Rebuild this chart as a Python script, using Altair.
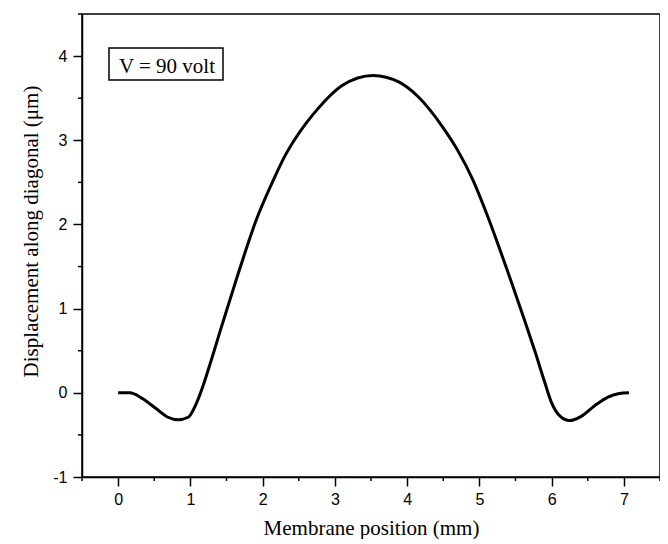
import altair as alt
import pandas as pd

# Curve (membrane position in mm, displacement in µm)
positions = [0, 0.16, 0.34, 0.53, 0.69, 0.83, 0.97, 1.08, 1.17, 1.29, 1.40, 1.52,
             1.63, 1.75, 1.91, 2.00, 2.15, 2.30, 2.46, 2.60, 2.76, 3.10, 3.53,
             3.89, 4.15, 4.49, 4.70, 4.91, 5.10, 5.26, 5.45, 5.63, 5.77, 5.91,
             6.00, 6.12, 6.25, 6.41, 6.60, 6.78, 6.92, 7.07]
displacements = [0, 0, -0.07, -0.19, -0.29, -0.32, -0.29, -0.13, 0.07, 0.39,
                 0.70, 1.03, 1.33, 1.65, 2.05, 2.24, 2.53, 2.80, 3.03, 3.20,
                 3.37, 3.65, 3.77, 3.69, 3.52, 3.16, 2.88, 2.53, 2.13, 1.76,
                 1.30, 0.85, 0.49, 0.11, -0.12, -0.28, -0.33, -0.28, -0.15,
                 -0.05, -0.01, 0]

x_major = [0, 1, 2, 3, 4, 5, 6, 7]
x_minor = [-0.5, 0.5, 1.5, 2.5, 3.5, 4.5, 5.5, 6.5, 7.5]
y_major = [-1, 0, 1, 2, 3, 4]
y_minor = [-0.5, 0.5, 1.5, 2.5, 3.5, 4.5]
annotation = ["V = 90 volt"]

W, H = 578, 463
xscale = alt.Scale(domain=[-0.5, 7.5], nice=False, zero=False)
yscale = alt.Scale(domain=[-1, 4.5], nice=False, zero=False)

df = pd.DataFrame({"x": positions, "y": displacements})

line = alt.Chart(df).mark_line(color="black", strokeWidth=3, interpolate="monotone").encode(
    x=alt.X("x:Q", scale=xscale,
            axis=alt.Axis(values=x_major, title="Membrane position (mm)",
                          labelExpr="'' + datum.value",
                          tickSize=9, labelPadding=5, grid=False,
                          titleY=57, titleBaseline="alphabetic")),
    y=alt.Y("y:Q", scale=yscale,
            axis=alt.Axis(values=y_major, title="Displacement along diagonal (μm)",
                          labelExpr="'' + datum.value",
                          tickSize=9, labelPadding=6, grid=False,
                          titleX=-45, titleY=217, titleBaseline="alphabetic")),
)

xminor = alt.Chart(pd.DataFrame({"x": x_minor})).mark_rule(color="black", strokeWidth=1.5).encode(
    x=alt.X("x:Q", scale=xscale), y=alt.value(H), y2=alt.value(H + 4)
)
yminor = alt.Chart(pd.DataFrame({"y": y_minor})).mark_rule(color="black", strokeWidth=1.5).encode(
    y=alt.Y("y:Q", scale=yscale), x=alt.value(-4), x2=alt.value(0)
)

box = alt.Chart(pd.DataFrame({"label": annotation})).mark_rect(
    fill="white", stroke="black", strokeWidth=1.5
).encode(x=alt.value(27), x2=alt.value(141), y=alt.value(34), y2=alt.value(66))

label = alt.Chart(pd.DataFrame({"label": annotation})).mark_text(
    font="Liberation Serif", fontSize=21, color="black", align="center", baseline="alphabetic"
).encode(text="label:N", x=alt.value(85), y=alt.value(59))

chart = alt.layer(line, xminor, yminor, box, label).properties(
    width=W, height=H,
    autosize=alt.AutoSizeParams(type="none"),
    padding={"left": 74, "top": 6, "right": 0, "bottom": 62},
).configure_view(
    stroke="black", strokeWidth=1.5
).configure_axis(
    domainColor="black", domainWidth=1.5, tickColor="black", tickWidth=1.5,
    labelFont="Liberation Sans", labelFontSize=16, labelColor="black",
    titleFont="Liberation Serif", titleFontSize=21, titleFontWeight="normal", titleColor="black",
)

chart.save("out.html", embed_options={"renderer": "svg", "actions": False})
